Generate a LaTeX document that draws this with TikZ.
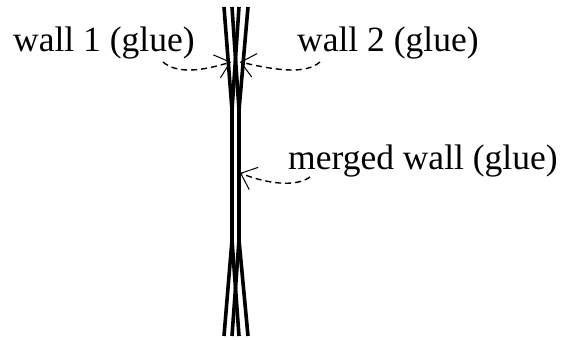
\documentclass[tikz,border=0pt]{standalone}
\usepackage{fontspec}
\setmainfont{Liberation Serif}
\usetikzlibrary{arrows.meta}
\begin{document}
\begin{tikzpicture}[x=1pt,y=-1pt,
  wallline/.style={line width=3.6pt},
  lbl/.style={font=\fontsize{35.5}{42}\selectfont, inner sep=0pt, anchor=base west},
  gluearrow/.style={dashed, dash pattern=on 6pt off 4pt, line width=1.4pt,
     -{Straight Barb[length=14pt,width=24pt,line width=1pt]}}]
\useasboundingbox (0,0) rectangle (563,340);
% walls
\draw[wallline] (224,7) -- (232,110) -- (232,240) -- (224,336);
\draw[wallline] (232,7) -- (239,110) -- (239,240) -- (232,336);
\draw[wallline] (239,7) -- (232,110) -- (232,240) -- (239,336);
\draw[wallline] (248,7) -- (239,110) -- (239,240) -- (248,336);
% labels
\node[lbl] (w1) at (13,52) {wall 1 (glue)};
\node[lbl] (w2) at (297,52) {wall 2 (glue)};
\node[lbl] (mw) at (288,169) {merged wall (glue)};
% arrow ends
\coordinate (w1s) at (163,62);
\coordinate (w1t) at (231,62);
\coordinate (w2s) at (320,62);
\coordinate (w2t) at (240,62);
\coordinate (mws) at (310,177);
\coordinate (mwt) at (240,173);
\draw[gluearrow] (w1s) .. controls (178,75) and (205,70) .. (w1t);
\draw[gluearrow] (w2s) .. controls (305,75) and (275,70) .. (w2t);
\draw[gluearrow] (mws) .. controls (295,188) and (265,183) .. (mwt);
\end{tikzpicture}
\end{document}
